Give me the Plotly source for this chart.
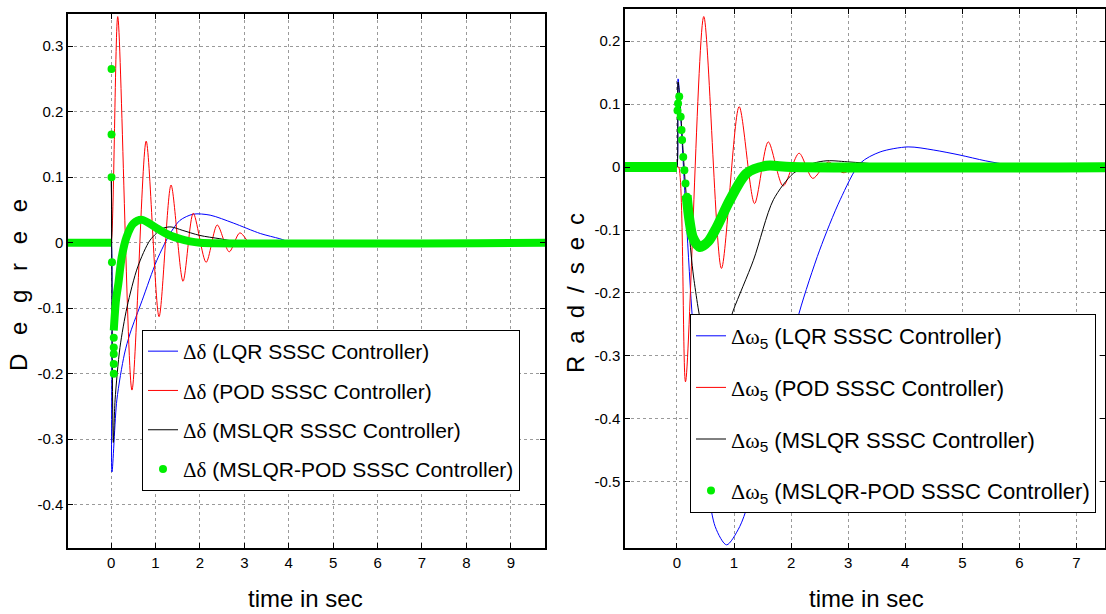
import plotly.graph_objects as go

# ---------------- Left panel: rotor angle deviation (Degree) ----------------
t_lqr_d = [-1, -0.5, -0.01, 0, 0.02, 0.13, 0.3, 0.43, 0.7, 1.03, 1.33, 1.55, 1.85, 2.23, 2.75, 3.36, 3.8, 4.1, 10]
v_lqr_d = [0, 0, 0, 0, -0.35, -0.24, -0.17, -0.138, -0.088, -0.027, 0.014, 0.034, 0.0435, 0.042, 0.03, 0.014, 0.006, 0, 0]

t_pod_d = [-1, -0.5, -0.01, 0, 0.15, 0.47, 0.79, 1.08, 1.35, 1.62, 1.85, 2.14, 2.39, 2.66, 2.9, 3.18, 3.4, 3.6, 10]
v_pod_d = [0, 0, 0, 0, 0.345, -0.225, 0.155, -0.113, 0.088, -0.059, 0.045, -0.03, 0.027, -0.014, 0.015, -0.005, 0.003, 0, 0]

t_mslqr_d = [-1, -0.5, -0.01, 0, 0.005, 0.05, 0.09, 0.2, 0.36, 0.6, 0.88, 1.17, 1.35, 1.6, 2.0, 2.45, 3.0, 10]
v_mslqr_d = [0, 0, 0, 0, 0.1, -0.305, -0.24, -0.16, -0.098, -0.037, 0.004, 0.022, 0.024, 0.019, 0.011, 0.006, 0, 0]

t_mp_d = [-1, 0, None, 0.06, 0.11, 0.165, 0.24, 0.35, 0.5, 0.69, 1.03, 1.33, 1.78, 2.0, 10]
v_mp_d = [0, 0, None, -0.134, -0.088, -0.062, -0.022, 0.009, 0.029, 0.035, 0.022, 0.011, 0.002, 0, 0]

t_mp_dots_d = [0.01, 0.01, 0.01, 0.02, 0.06, 0.06, 0.06, 0.06, 0.06]
v_mp_dots_d = [0.265, 0.165, 0.1, -0.03, -0.2, -0.185, -0.17, -0.16, -0.145]

# ---------------- Right panel: speed deviation (Rad/sec) ----------------
t_lqr_w = [-1, -0.5, -0.01, 0, 0.02, 0.15, 0.26, 0.45, 0.67, 0.87, 1.1, 1.4, 1.8, 2.14, 2.5, 2.86, 3.21, 3.56, 4.05, 4.5, 4.96, 5.4, 5.84, 6.2, 8]
v_lqr_w = [0, 0, 0, 0, 0.14, -0.06, -0.227, -0.44, -0.571, -0.6, -0.571, -0.49, -0.36, -0.232, -0.132, -0.052, 0.006, 0.024, 0.032, 0.027, 0.019, 0.01, 0.003, 0, 0]

t_pod_w = [-1, -0.5, -0.01, 0, 0.03, 0.15, 0.47, 0.78, 1.09, 1.36, 1.6, 1.86, 2.14, 2.38, 2.65, 2.91, 3.15, 8]
v_pod_w = [0, 0, 0, 0, 0, -0.341, 0.239, -0.161, 0.096, -0.058, 0.04, -0.03, 0.022, -0.018, 0.008, -0.009, 0, 0]

t_mslqr_w = [-1, -0.5, -0.01, 0, 0.02, 0.15, 0.3, 0.5, 0.7, 0.85, 0.99, 1.34, 1.69, 2.04, 2.39, 2.63, 3.03, 3.44, 3.8, 8]
v_mslqr_w = [0, 0, 0, 0, 0.135, -0.03, -0.18, -0.27, -0.285, -0.265, -0.227, -0.148, -0.052, -0.01, 0.006, 0.01, 0.008, 0.005, 0, 0]

t_mp_w = [-1, 0, None, 0.17, 0.22, 0.28, 0.4, 0.55, 0.7, 0.93, 1.22, 1.57, 2.0, 8]
v_mp_w = [0, 0, None, -0.045, -0.085, -0.112, -0.127, -0.118, -0.095, -0.052, -0.01, 0.002, 0, 0]

t_mp_dots_w = [0.01, 0.02, 0.04, 0.065, 0.08, 0.09, 0.11, 0.13, 0.15, 0.175]
v_mp_dots_w = [0.09, 0.101, 0.112, 0.08, 0.059, 0.043, 0.016, -0.005, -0.026, -0.047]

x_ticks_left = list(range(0, 10))
x_ticks_right = list(range(0, 8))
y_ticks_left = [-0.4, -0.3, -0.2, -0.1, 0, 0.1, 0.2, 0.3]
y_ticks_right = [-0.5, -0.4, -0.3, -0.2, -0.1, 0, 0.1, 0.2]
y_text_left = ["-0.4", "-0.3", "-0.2", "-0.1", "0", "0.1", "0.2", "0.3"]
y_text_right = ["-0.5", "-0.4", "-0.3", "-0.2", "-0.1", "0", "0.1", "0.2"]

SERIF = "'Liberation Serif', 'Times New Roman', serif"
SANS = "'Liberation Sans', Arial, sans-serif"
d_sym = f"<span style=\"font-family:{SERIF}\">Δδ</span>"
w_sym = f"<span style=\"font-family:{SERIF}\">Δω</span><sub>5</sub>"
names = ["(LQR SSSC Controller)", "(POD SSSC Controller)", "(MSLQR SSSC Controller)", "(MSLQR-POD SSSC Controller)"]

GREEN = "#00ee00"
fig = go.Figure()

def add_panel(xa, ya, leg, sym, series, mp_line, mp_dots, gw):
    colors = ["#0000ff", "#ff0000", "#000000"]
    for i, ((t, v), c, nm) in enumerate(zip(series, colors, names[:3])):
        fig.add_trace(go.Scatter(x=t, y=v, mode="lines", line=dict(color=c, width=1, shape="spline", smoothing=0.8),
                                 name=f"{sym} {nm}", xaxis=xa, yaxis=ya, legend=leg,
                                 legendgroup=f"{leg}{i}"))
    fig.add_trace(go.Scatter(x=mp_line[0], y=mp_line[1], mode="lines",
                             line=dict(color=GREEN, width=gw, shape="spline", smoothing=0.8),
                             showlegend=False, xaxis=xa, yaxis=ya, connectgaps=False))
    fig.add_trace(go.Scatter(x=mp_dots[0], y=mp_dots[1], mode="markers",
                             marker=dict(color=GREEN, size=8), name=f"{sym} {names[3]}",
                             xaxis=xa, yaxis=ya, legend=leg, legendgroup=f"{leg}3"))

add_panel("x", "y", "legend", d_sym,
          [(t_lqr_d, v_lqr_d), (t_pod_d, v_pod_d), (t_mslqr_d, v_mslqr_d)],
          (t_mp_d, v_mp_d), (t_mp_dots_d, v_mp_dots_d), 8)
add_panel("x2", "y2", "legend2", w_sym,
          [(t_lqr_w, v_lqr_w), (t_pod_w, v_pod_w), (t_mslqr_w, v_mslqr_w)],
          (t_mp_w, v_mp_w), (t_mp_dots_w, v_mp_dots_w), 10)

W, H = 1106, 614
axis_common = dict(showline=True, linecolor="black", linewidth=1.5, mirror="ticks", ticks="inside",
                   ticklen=5, tickcolor="black", showgrid=True, gridcolor="#9a9a9a", griddash="dot",
                   gridwidth=1, zeroline=False, automargin=False,
                   tickfont=dict(family=SANS, size=15, color="black"))

leg_common = dict(bgcolor="white", bordercolor="black", borderwidth=1,
                  xanchor="left", yanchor="top")

ylab_left = " \u2002".join("Degree")
ylab_right = "\u2002".join("Rad/sec")

fig.update_layout(
    width=W, height=H, margin=dict(l=0, r=0, t=0, b=0),
    paper_bgcolor="white", plot_bgcolor="white",
    xaxis=dict(domain=[68 / W, 545 / W], range=[-0.97, 9.77], tickvals=x_ticks_left, anchor="y", **axis_common),
    yaxis=dict(domain=[1 - 548 / H, 1 - 14 / H], range=[-0.466, 0.349], tickvals=y_ticks_left,
               ticktext=y_text_left, anchor="x", **axis_common),
    xaxis2=dict(domain=[625 / W, 1105 / W], range=[-0.91, 7.5], tickvals=x_ticks_right, anchor="y2", **axis_common),
    yaxis2=dict(domain=[1 - 548 / H, 1 - 9 / H], range=[-0.605, 0.251], tickvals=y_ticks_right,
                ticktext=y_text_right, anchor="x2", **axis_common),
    legend=dict(x=142 / W, y=1 - 330 / H, tracegroupgap=9,
                font=dict(family=SANS, size=21, color="black"), **leg_common),
    legend2=dict(x=690 / W, y=1 - 314 / H, tracegroupgap=20,
                 font=dict(family=SANS, size=22, color="black"), **leg_common),
    annotations=[
        dict(text="time in sec", x=305 / W, y=1 - 598 / H, xref="paper", yref="paper", showarrow=False,
             xanchor="center", yanchor="middle", font=dict(family=SANS, size=24, color="black")),
        dict(text="time in sec", x=866 / W, y=1 - 598 / H, xref="paper", yref="paper", showarrow=False,
             xanchor="center", yanchor="middle", font=dict(family=SANS, size=24, color="black")),
        dict(text=ylab_left, x=18 / W, y=1 - 285 / H, xref="paper", yref="paper", showarrow=False,
             xanchor="center", yanchor="middle", textangle=-90,
             font=dict(family=SANS, size=24, color="black")),
        dict(text=ylab_right, x=575 / W, y=1 - 293 / H, xref="paper", yref="paper", showarrow=False,
             xanchor="center", yanchor="middle", textangle=-90,
             font=dict(family=SANS, size=24, color="black")),
    ],
)

fig.write_html("out.html")
